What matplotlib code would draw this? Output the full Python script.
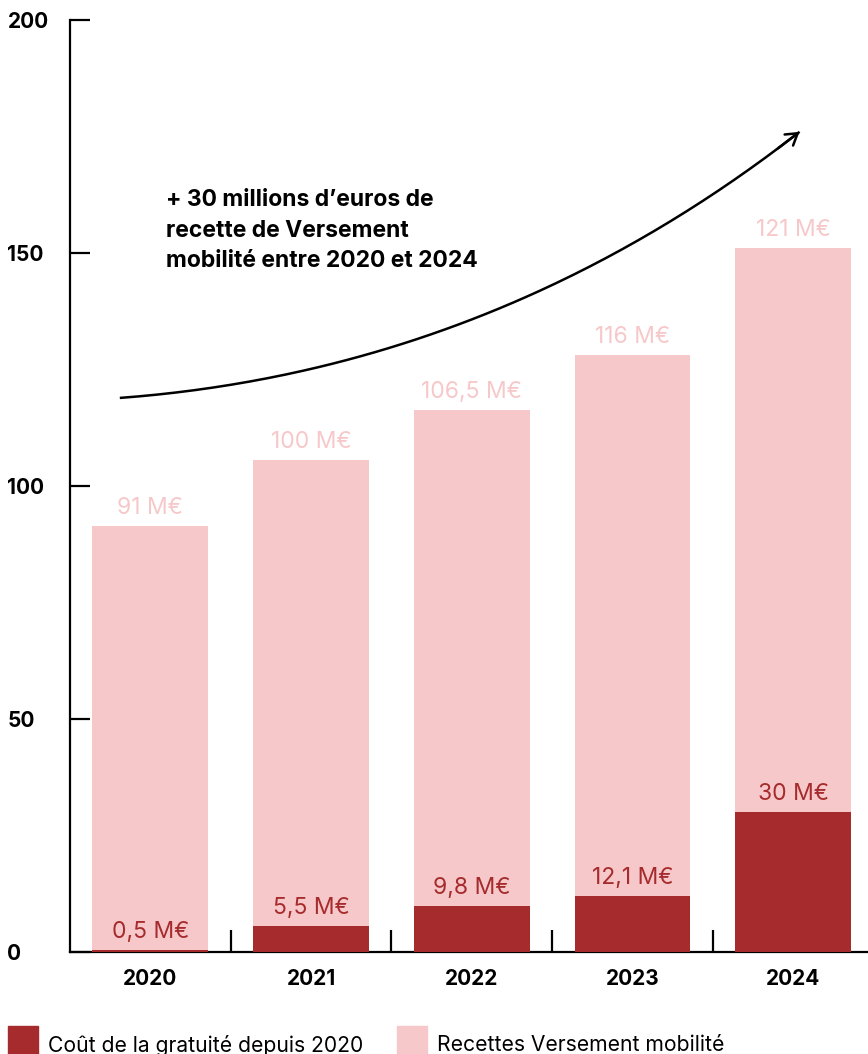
import matplotlib
matplotlib.use("Agg")
import numpy as np
import matplotlib.pyplot as plt
from matplotlib.patches import Rectangle

plt.rcParams['font.family'] = ['Inter', 'DejaVu Sans']

years = ["2020", "2021", "2022", "2023", "2024"]
cout = [0.5, 5.5, 9.8, 12.1, 30]
recettes = [91, 100, 106.5, 116, 121]
cout_labels = ["0,5 M€", "5,5 M€", "9,8 M€", "12,1 M€", "30 M€"]
recettes_labels = ["91 M€", "100 M€", "106,5 M€", "116 M€", "121 M€"]

dark = "#A52B2D"
pink = "#F7C8C9"

fig = plt.figure(figsize=(8.68, 10.54), dpi=100)
W, H = 868, 1054
ax = fig.add_axes([70 / W, 102 / H, (W - 70) / W, (952 - 20) / H])

x = list(range(len(years)))
totals = [c + r for c, r in zip(cout, recettes)]
ax.bar(x, totals, width=0.72, color=pink, zorder=3)
ax.bar(x, cout, width=0.72, color=dark, zorder=4)

for i in x:
    ax.annotate(recettes_labels[i], (i, totals[i]), xytext=(0, 5), textcoords="offset points",
                ha="center", va="bottom", fontsize=16.5, color=pink, zorder=5)
    ax.annotate(cout_labels[i], (i, cout[i]), xytext=(0, 5), textcoords="offset points",
                ha="center", va="bottom", fontsize=16.5, color=dark, zorder=5)

ax.set_xlim(-0.5, 4.466)
ax.set_ylim(0, 200)

for s in ["top", "right"]:
    ax.spines[s].set_visible(False)
for s in ["left", "bottom"]:
    ax.spines[s].set_linewidth(1.6)

ax.set_yticks([0, 50, 100, 150, 200])
ax.set_yticklabels(["0", "50", "100", "150", "200"], fontsize=15, fontweight="bold")
ax.tick_params(axis="y", direction="in", length=14.5, width=1.6, pad=45)
for lab in ax.get_yticklabels():
    lab.set_horizontalalignment("left")

ax.set_xticks(x)
ax.set_xticklabels(years, fontsize=15, fontweight="bold")
ax.tick_params(axis="x", which="major", length=0, pad=12)
ax.set_xticks([0.5, 1.5, 2.5, 3.5], minor=True)
ax.tick_params(axis="x", which="minor", direction="in", length=16, width=1.6)

ax.text(0.096, 154.8, "+ 30 millions d’euros de\nrecette de Versement\nmobilité entre 2020 et 2024",
        fontsize=16.5, fontweight="bold", ha="left", va="center", linespacing=1.5)

# courbe de tendance (bezier quadratique)
p0 = np.array([-0.19, 118.9])
pc = np.array([2.14, 124.9])
p1 = np.array([4.04, 176.0])
t = np.linspace(0, 1, 200)[:, None]
curve = (1 - t) ** 2 * p0 + 2 * t * (1 - t) * pc + t ** 2 * p1
ax.plot(curve[:, 0], curve[:, 1], color="black", lw=1.8, zorder=6, solid_capstyle="butt")
ax.annotate("", xy=tuple(curve[-1]), xytext=tuple(curve[-8]),
            arrowprops=dict(arrowstyle="->,head_length=0.8,head_width=0.5", color="black", lw=1.8,
                            shrinkA=0, shrinkB=0), zorder=6)

# légende
fig.add_artist(Rectangle((8 / W, 1 - 1056 / H), 30 / W, 30 / H, color=dark, transform=fig.transFigure))
fig.text(48 / W, 1 - 1045 / H, "Coût de la gratuité depuis 2020", fontsize=15.2, va="center", ha="left")
fig.add_artist(Rectangle((397 / W, 1 - 1056 / H), 30 / W, 30 / H, color=pink, transform=fig.transFigure))
fig.text(437 / W, 1 - 1045 / H, "Recettes Versement mobilité", fontsize=15.2, va="center", ha="left")

fig.savefig("out.png", dpi=100)
